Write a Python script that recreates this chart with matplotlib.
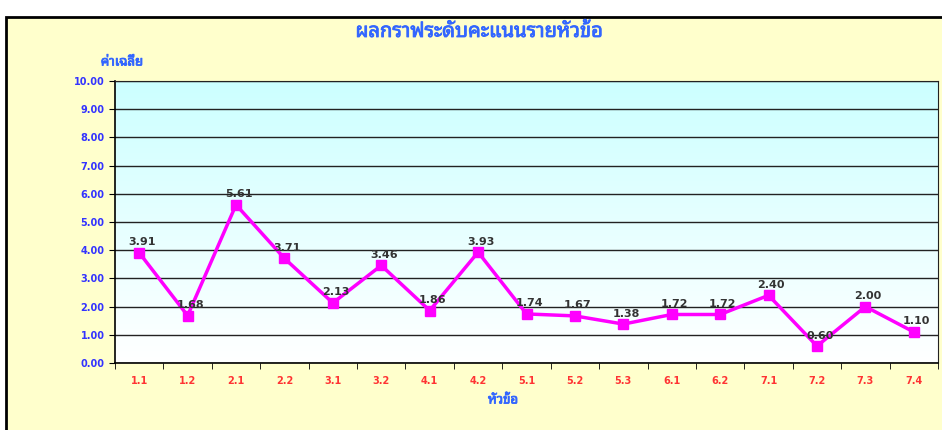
import numpy as np
import matplotlib
matplotlib.use("Agg")
import matplotlib.pyplot as plt
import matplotlib.patheffects as pe
from matplotlib.patches import Rectangle
from matplotlib.ticker import FixedLocator, NullFormatter

# data
topics = ["1.1", "1.2", "2.1", "2.2", "3.1", "3.2", "4.1", "4.2", "5.1",
          "5.2", "5.3", "6.1", "6.2", "7.1", "7.2", "7.3", "7.4"]
means = [3.91, 1.68, 5.61, 3.71, 2.13, 3.46, 1.86, 3.93, 1.74,
         1.67, 1.38, 1.72, 1.72, 2.40, 0.60, 2.00, 1.10]

title = "ผลกราฟระดับคะแนนรายหัวข้อ"
ylabel = "ค่าเฉลี่ย"
xlabel = "หัวข้อ"

plt.rcParams['font.family'] = ['DejaVu Sans', 'Noto Sans Thai Looped']
thai = ['Noto Sans Thai Looped', 'Loma', 'DejaVu Sans']
# fake bold for the thai font (only regular weight is installed)
bold_fx = [pe.withStroke(linewidth=0.6, foreground="#3366FF")]

fig = plt.figure(figsize=(9.42, 4.30), dpi=100)

# chart area background with border
fig.patches.append(Rectangle((6 / 942, -0.1), 1.1, 0.1 + (430 - 17) / 430,
                             transform=fig.transFigure, facecolor="#FFFFCC",
                             edgecolor="black", linewidth=2, zorder=-5))

ax = fig.add_axes([115 / 942, (430 - 363) / 430, 823 / 942, 282 / 430])
ax.set_zorder(2)
ax.set_facecolor("none")

# gradient from white (bottom) to light cyan (top)
grad = np.linspace(0, 1, 256).reshape(-1, 1)
cmap = matplotlib.colors.LinearSegmentedColormap.from_list("g", ["#FFFFFF", "#CCFFFF"])
ax.imshow(grad, extent=[-0.5, len(topics) - 0.5, 0, 10], origin="lower",
          aspect="auto", cmap=cmap, zorder=0)

x = np.arange(len(topics))
ax.plot(x, means, color="#FF00FF", lw=2.5, marker="s", ms=7, zorder=3)
for xi, v in zip(x, means):
    ax.annotate(f"{v:.2f}", (xi, v), xytext=(2, 4), textcoords="offset points",
                ha="center", va="bottom", fontsize=8, fontweight="bold",
                color="#333333", zorder=4)

ax.set_xlim(-0.5, len(topics) - 0.5)
ax.set_ylim(0, 10)
ax.set_yticks(np.arange(0, 11, 1))
ax.set_yticklabels([f"{t:.2f}" for t in np.arange(0, 11, 1)])
ax.yaxis.grid(True, color="#222222", lw=1, zorder=1)
ax.set_xticks(x)
ax.set_xticklabels(topics)
ax.tick_params(axis="x", length=0, pad=9, labelsize=7, labelcolor="#FF3333")
ax.xaxis.set_minor_locator(FixedLocator(np.arange(-0.5, len(topics), 1)))
ax.xaxis.set_minor_formatter(NullFormatter())
ax.tick_params(axis="x", which="minor", length=4, direction="out", color="black")
ax.tick_params(axis="y", length=4, direction="out", labelsize=7, labelcolor="#3333FF")
for lbl in ax.get_xticklabels() + ax.get_yticklabels():
    lbl.set_fontweight("bold")
for s in ["left", "bottom"]:
    ax.spines[s].set_color("black")
    ax.spines[s].set_linewidth(1.2)
ax.spines["top"].set_color("#222222")
ax.spines["right"].set_color("#222222")

fig.text(479 / 942, 1 - 32 / 430, title, ha="center", va="center", family=thai,
         fontsize=14.5, color="#3366FF", path_effects=bold_fx)
fig.text(122 / 942, 1 - 62 / 430, ylabel, ha="center", va="center", family=thai,
         fontsize=9.5, color="#3366FF", path_effects=bold_fx)
fig.text(503 / 942, 1 - 400 / 430, xlabel, ha="center", va="center", family=thai,
         fontsize=9.5, color="#3366FF", path_effects=bold_fx)

fig.savefig("out.png", dpi=100)
